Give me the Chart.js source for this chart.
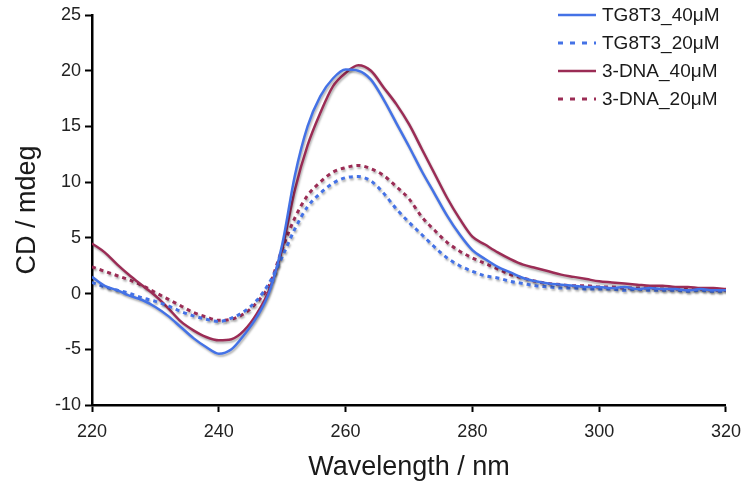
<!DOCTYPE html>
<html>
<head>
<meta charset="utf-8">
<script src="https://cdn.jsdelivr.net/npm/chart.js@4/dist/chart.umd.min.js"></script>
<style>
	html, body { margin: 0; padding: 0; background: #fff; }
	#wrap { width: 750px; height: 493px; }
</style>
</head>
<body>
<div id="wrap"><canvas id="cd_chart"></canvas></div>
<script>
var wavelengths = [
	220, 222, 224, 226, 228, 230, 232, 234, 236, 238,
	240, 242, 244, 246, 248, 250, 252, 254, 256, 258,
	260, 262, 264, 266, 268, 270, 272, 274, 276, 278,
	280, 282, 284, 286, 288, 290, 292, 294, 296, 298,
	300, 302, 304, 306, 308, 310, 312, 314, 316, 318, 320
];

var tg8t3_40 = [
	1.5, 0.7, 0.3, -0.2, -0.6, -1.2, -2.0, -3.0, -4.0, -4.8,
	-5.4, -5.0, -3.7, -2.1, 0.2, 4.4, 10.6, 15.0, 17.7, 19.3,
	20.1, 20.0, 19.2, 17.4, 15.3, 13.2, 11.0, 9.0, 7.0, 5.3,
	3.9, 3.1, 2.4, 1.9, 1.4, 1.1, 0.9, 0.8, 0.7, 0.6,
	0.6, 0.5, 0.6, 0.4, 0.5, 0.4, 0.4, 0.3, 0.4, 0.3, 0.3
];

var tg8t3_20 = [
	1.0, 0.6, 0.3, 0.0, -0.4, -0.7, -1.1, -1.6, -2.0, -2.3,
	-2.5, -2.2, -1.6, -0.6, 1.0, 3.3, 5.8, 7.8, 9.0, 9.9,
	10.4, 10.5, 10.1, 9.0, 7.6, 6.4, 5.3, 4.2, 3.2, 2.5,
	2.0, 1.6, 1.4, 1.1, 0.9, 0.7, 0.6, 0.5, 0.5, 0.4,
	0.4, 0.4, 0.3, 0.4, 0.3, 0.3, 0.3, 0.2, 0.3, 0.2, 0.2
];

var dna3_40 = [
	4.5, 3.7, 2.6, 1.6, 0.7, -0.2, -1.3, -2.5, -3.3, -3.9,
	-4.2, -4.1, -3.3, -1.8, 0.4, 4.0, 9.3, 13.3, 16.2, 18.6,
	19.8, 20.5, 20.0, 18.5, 17.0, 15.2, 13.0, 10.8, 8.6, 6.7,
	5.1, 4.4, 3.7, 3.1, 2.6, 2.3, 2.0, 1.7, 1.5, 1.3,
	1.1, 1.0, 0.9, 0.8, 0.7, 0.7, 0.6, 0.6, 0.5, 0.5, 0.4
];

var dna3_20 = [
	2.4, 2.0, 1.6, 1.2, 0.7, 0.1, -0.5, -1.1, -1.7, -2.1,
	-2.4, -2.3, -1.8, -0.8, 0.8, 4.0, 6.8, 8.8, 10.0, 10.9,
	11.3, 11.5, 11.2, 10.6, 9.6, 8.5, 6.9, 5.7, 4.6, 3.8,
	3.2, 2.7, 2.2, 1.7, 1.4, 1.1, 0.9, 0.8, 0.7, 0.7,
	0.6, 0.6, 0.5, 0.5, 0.5, 0.4, 0.4, 0.4, 0.4, 0.3, 0.3
];

var seriesNames = ['TG8T3_40\u03bcM', 'TG8T3_20\u03bcM', '3-DNA_40\u03bcM', '3-DNA_20\u03bcM'];
var yTicks = [-10, -5, 0, 5, 10, 15, 20, 25];
var xTicks = [220, 240, 260, 280, 300, 320];

var BLUE = '#4472e6';
var MAROON = '#9b2c55';

function points(ys) {
	return wavelengths.map(function (x, i) { return { x: x, y: ys[i] }; });
}

function makeSet(label, ys, color, dashed) {
	return {
		label: label,
		data: points(ys),
		borderColor: color,
		backgroundColor: color,
		borderWidth: dashed ? 3 : 2.5,
		borderDash: dashed ? [4, 4] : [],
		pointRadius: 0,
		cubicInterpolationMode: 'monotone',
		fill: false
	};
}

// soft grey drop shadow like the original export
var shadowPlugin = {
	id: 'shadow',
	beforeDatasetsDraw: function (chart) {
		var ctx = chart.ctx;
		ctx.save();
		ctx.shadowColor = 'rgba(0,0,0,0.3)';
		ctx.shadowBlur = 2;
		ctx.shadowOffsetX = 1;
		ctx.shadowOffsetY = 2;
	},
	afterDatasetsDraw: function (chart) {
		chart.ctx.restore();
	}
};

// legend drawn in the top right corner, over the plot
var legendPlugin = {
	id: 'cornerLegend',
	afterDraw: function (chart) {
		var ctx = chart.ctx;
		var sets = chart.data.datasets;
		ctx.save();
		ctx.font = '19px "Liberation Sans", Arial, sans-serif';
		ctx.textBaseline = 'middle';
		ctx.fillStyle = '#1a1a1a';
		for (var i = 0; i < sets.length; i++) {
			var y = 15 + i * 28;
			ctx.beginPath();
			ctx.strokeStyle = sets[i].borderColor;
			ctx.lineWidth = sets[i].borderWidth;
			ctx.setLineDash(sets[i].borderDash.length ? [5, 7] : []);
			ctx.moveTo(558, y);
			ctx.lineTo(596, y);
			ctx.stroke();
			ctx.fillText(sets[i].label, 602, y + 1);
		}
		ctx.restore();
	}
};

var config = {
	type: 'line',
	data: {
		datasets: [
			makeSet(seriesNames[0], tg8t3_40, BLUE, false),
			makeSet(seriesNames[1], tg8t3_20, BLUE, true),
			makeSet(seriesNames[2], dna3_40, MAROON, false),
			makeSet(seriesNames[3], dna3_20, MAROON, true)
		]
	},
	options: {
		responsive: true,
		maintainAspectRatio: false,
		animation: false,
		layout: {
			padding: { left: 0, right: 22, top: 15, bottom: 0 }
		},
		plugins: {
			legend: { display: false },
			tooltip: { enabled: false }
		},
		scales: {
			x: {
				type: 'linear',
				min: 220,
				max: 320,
				afterBuildTicks: function (scale) {
					scale.ticks = xTicks.map(function (v) { return { value: v }; });
				},
				afterFit: function (scale) { scale.height = 88; },
				grid: {
					display: true,
					drawOnChartArea: false,
					drawTicks: true,
					tickLength: 7,
					tickWidth: 2,
					tickColor: '#000'
				},
				border: { display: true, color: '#000', width: 2.5 },
				ticks: {
					color: '#222',
					padding: 9,
					maxRotation: 0,
					font: { family: '"Liberation Sans", Arial, sans-serif', size: 18 }
				},
				title: {
					display: true,
					text: 'Wavelength / nm',
					color: '#1a1a1a',
					padding: { top: 4, bottom: 9 },
					font: { family: '"Liberation Sans", Arial, sans-serif', size: 27 }
				}
			},
			y: {
				min: -10,
				max: 25,
				afterBuildTicks: function (scale) {
					scale.ticks = yTicks.map(function (v) { return { value: v }; });
				},
				afterFit: function (scale) { scale.width = 92; },
				grid: {
					display: true,
					drawOnChartArea: false,
					drawTicks: true,
					tickLength: 7,
					tickWidth: 2,
					tickColor: '#000'
				},
				border: { display: true, color: '#000', width: 2.5 },
				ticks: {
					color: '#222',
					padding: 4,
					font: { family: '"Liberation Sans", Arial, sans-serif', size: 18 }
				},
				title: {
					display: true,
					text: 'CD / mdeg',
					color: '#1a1a1a',
					padding: { top: 11, bottom: 4 },
					font: { family: '"Liberation Sans", Arial, sans-serif', size: 27 }
				}
			}
		}
	},
	plugins: [shadowPlugin, legendPlugin]
};

var chart = new Chart(document.getElementById('cd_chart'), config);
</script>
</body>
</html>
